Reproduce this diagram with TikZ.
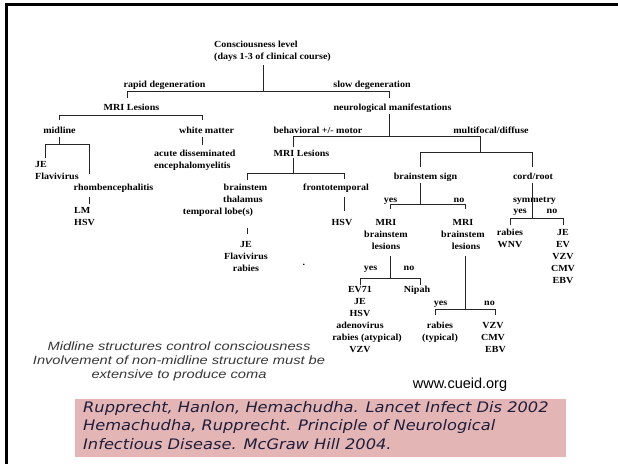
\documentclass[tikz,border=0pt]{standalone}
\usepackage{fontspec}
\setmainfont{Liberation Serif}
\newfontfamily\tf[FakeStretch=1.08]{Liberation Serif}
\newfontfamily\nf[FakeStretch=1.22]{Liberation Sans}
\newfontfamily\wf{Liberation Sans}
\newfontfamily\cf[FakeStretch=1.12]{DejaVu Sans}
\definecolor{pinkbox}{RGB}{227,181,181}
\definecolor{navy}{RGB}{30,30,60}
\definecolor{notegray}{RGB}{55,55,55}
\newcommand{\ml}[2]{\begin{tabular}[t]{@{}#1@{}}#2\end{tabular}}
\begin{document}
\begin{tikzpicture}[x=1pt,y=-1pt,
  lbl/.style={inner sep=0pt, anchor=mid, font=\tf\bfseries\fontsize{9.3}{12}\selectfont},
  lblw/.style={lbl, anchor=mid west},
  ln/.style={line width=0.8pt, draw=black!85}]
\useasboundingbox (0,0) rectangle (618,463);
% frame
\draw[line width=3pt, line cap=rect] (6.7,463) -- (6.7,4.2) -- (618,4.2);

% ---------- text nodes ----------
\node[lblw] (cons) at (214,45) {\ml{l}{Consciousness level\\(days 1-3 of clinical course)}};
\node[lbl] (rapid) at (164.5,85) {rapid degeneration};
\node[lbl] (slow) at (372,85) {slow degeneration};
\node[lbl] (mri1) at (131.5,108) {MRI Lesions};
\node[lbl] (neuro) at (392.5,108) {neurological manifestations};
\node[lbl] (midline) at (59.5,131) {midline};
\node[lbl] (white) at (206.5,131) {white matter};
\node[lbl] (behav) at (318,131) {behavioral +/- motor};
\node[lbl] (multi) at (491,131) {multifocal/diffuse};
\node[lblw] (adem) at (154,154) {\ml{l}{acute disseminated\\encephalomyelitis}};
\node[lbl] (mri2) at (301.5,154) {MRI Lesions};
\node[lblw] (jeflav) at (35,165) {\ml{l}{JE\\Flavivirus}};
\node[lbl] (rhomb) at (113.5,188) {rhombencephalitis};
\node[lblw] (lmhsv) at (74,211) {\ml{l}{LM\\HSV}};
\node[lbl] (bs1) at (245.5,188) {brainstem};
\node[lbl] (bs2) at (243,200) {thalamus};
\node[lbl] (bs3) at (218,212) {temporal lobe(s)};
\node[lbl] (jfr) at (246,245) {\ml{c}{JE\\Flavivirus\\rabies}};
\node[lbl] (fronto) at (336,188) {frontotemporal};
\node[lbl] (hsv2) at (342,223) {HSV};
\node[lbl, anchor=base] (dot) at (304,265) {.};
\node[lbl] (bsign) at (425.5,177) {brainstem sign};
\node[lbl] (cord) at (533,177) {cord/root};
\node[lbl] (yes1) at (390.5,200) {yes};
\node[lbl] (no1) at (459,200) {no};
\node[lbl] (mriL) at (386,223) {\ml{c}{MRI\\brainstem\\lesions}};
\node[lbl] (mriR) at (463,223) {\ml{c}{MRI\\brainstem\\\hspace*{6pt}lesions}};
\node[lbl] (symm) at (534.5,200) {symmetry};
\node[lbl] (yes2) at (520,211) {yes};
\node[lbl] (no2) at (552,211) {no};
\node[lbl] (rabwnv) at (510,233) {\ml{c}{rabies\\WNV}};
\node[lbl] (jeev) at (563,233) {\ml{c}{JE\\EV\\VZV\\CMV\\EBV}};
\node[lbl] (yes3) at (370.5,268) {yes};
\node[lbl] (no3) at (409,268) {no};
\node[lbl] (ev71) at (360,290) {\ml{c}{EV71\\JE\\HSV\\adenovirus\\\hspace*{14pt}rabies (atypical)\\VZV}};
\node[lbl] (nipah) at (417,290) {Nipah};
\node[lbl] (yes4) at (440.5,303) {yes};
\node[lbl] (no4) at (489.5,303) {no};
\node[lbl] (rabtyp) at (440,326) {\ml{c}{rabies\\(typical)}};
\node[lbl] (vzv) at (493,326) {\ml{c}{VZV\\CMV\\\hspace*{5pt}EBV}};

% ---------- connectors ----------
\coordinate (ta) at (263,65);  \coordinate (tb) at (263,91);
\coordinate (tl) at (127,91);  \coordinate (tld) at (127,98);
\coordinate (tr) at (389,91);  \coordinate (trd) at (389,98);
\draw[ln] (ta) -- (tb);
\draw[ln] (tld) -- (tl) -- (tr) -- (trd);

\coordinate (ml) at (59,115);  \coordinate (mld) at (59,120);
\coordinate (mr) at (202,115); \coordinate (mrd) at (202,120);
\draw[ln] (mld) -- (ml) -- (mr) -- (mrd);

\coordinate (mia) at (59,137); \coordinate (mib) at (59,144);
\coordinate (mil) at (45,144); \coordinate (mild) at (45,158);
\coordinate (mir) at (89,144); \coordinate (mird) at (89,174);
\draw[ln] (mia) -- (mib);
\draw[ln] (mild) -- (mil) -- (mir) -- (mird);

\coordinate (wa) at (202,137); \coordinate (wb) at (202,145);
\draw[ln] (wa) -- (wb);
\coordinate (ra) at (89,197); \coordinate (rb) at (89,204);
\draw[ln] (ra) -- (rb);

\coordinate (na) at (389,114); \coordinate (nb) at (389,136);
\coordinate (nl) at (293,136); \coordinate (nld) at (293,147);
\coordinate (nr) at (480,136); \coordinate (nrd) at (480,152);
\draw[ln] (na) -- (nb);
\draw[ln] (nld) -- (nl) -- (nr) -- (nrd);

\coordinate (fl) at (420,152); \coordinate (fld) at (420,167);
\coordinate (fr) at (532,152); \coordinate (frd) at (532,167);
\draw[ln] (fld) -- (fl) -- (fr) -- (frd);

\coordinate (m2a) at (293,158); \coordinate (m2b) at (293,173);
\coordinate (m2l) at (247,173); \coordinate (m2ld) at (247,180);
\coordinate (m2r) at (344,173); \coordinate (m2rd) at (344,179);
\draw[ln] (m2a) -- (m2b);
\draw[ln] (m2ld) -- (m2l) -- (m2r) -- (m2rd);

\coordinate (ba) at (247,228); \coordinate (bb) at (247,234);
\draw[ln] (ba) -- (bb);
\coordinate (fa) at (344,197); \coordinate (fb) at (344,211);
\draw[ln] (fa) -- (fb);

\coordinate (sa) at (420,183); \coordinate (sb) at (420,204);
\coordinate (sl) at (390,204); \coordinate (sld) at (390,209);
\coordinate (sr) at (465,204); \coordinate (srd) at (465,209);
\draw[ln] (sa) -- (sb);
\draw[ln] (sld) -- (sl) -- (sr) -- (srd);

\coordinate (la) at (390,256); \coordinate (lb) at (390,278);
\coordinate (ll) at (360,278); \coordinate (lld) at (360,285);
\coordinate (lr) at (420,278); \coordinate (lrd) at (420,285);
\draw[ln] (la) -- (lb);
\draw[ln] (lld) -- (ll) -- (lr) -- (lrd);

\coordinate (qa) at (465,256); \coordinate (qb) at (465,309);
\coordinate (ql) at (435,309); \coordinate (qld) at (435,315);
\coordinate (qr) at (495,309); \coordinate (qrd) at (495,315);
\draw[ln] (qa) -- (qb);
\draw[ln] (qld) -- (ql) -- (qr) -- (qrd);

\coordinate (ca) at (532,183); \coordinate (cb) at (532,218);
\coordinate (cl) at (510,218); \coordinate (cld) at (510,225);
\coordinate (cr) at (563,218); \coordinate (crd) at (563,225);
\draw[ln] (ca) -- (cb);
\draw[ln] (cld) -- (cl) -- (cr) -- (crd);

% ---------- notes ----------
\node[font=\nf\itshape\fontsize{12}{14}\selectfont, text=notegray, inner sep=0pt, anchor=mid] (note) at (179,348)
  {\ml{c}{Midline structures control consciousness\\Involvement of non-midline structure must be\\extensive to produce coma}};
\node[font=\wf\fontsize{14.5}{17}\selectfont, inner sep=0pt, anchor=mid] (www) at (460,386) {www.cueid.org};
\node[fill=pinkbox, inner sep=0pt, minimum width=491pt, minimum height=58pt, anchor=north west] (citebox) at (75,399) {};
\node[font=\cf\itshape\fontsize{14.5}{18.5}\selectfont, text=navy, inner sep=0pt, anchor=mid west] (cite) at (83,410)
  {\ml{l}{Rupprecht, Hanlon, Hemachudha. Lancet Infect Dis 2002\\Hemachudha, Rupprecht. Principle of Neurological\\Infectious Disease. McGraw Hill 2004.}};
\end{tikzpicture}
\end{document}
